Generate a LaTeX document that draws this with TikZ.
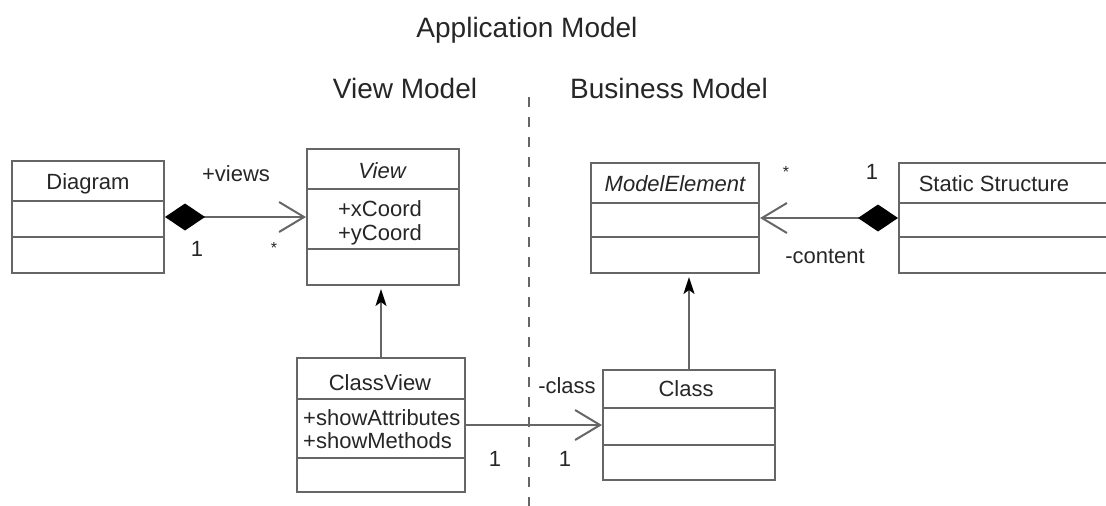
\documentclass[tikz,border=0pt]{standalone}
\usepackage{fontspec}
\setmainfont{Liberation Sans}
\usetikzlibrary{arrows.meta}

\begin{document}
\begin{tikzpicture}[x=1pt,y=-1pt,
  cls/.style={draw=black!60,line width=2pt,inner sep=0pt},
  part/.style={draw=black!60,line width=2pt},
  txt/.style={font=\fontsize{22}{26}\selectfont,text=black!85,text height=16pt,text depth=0pt,inner sep=0pt},
  star/.style={font=\fontsize{16}{20}\selectfont,text=black!85,inner sep=0pt},
  ttl/.style={font=\fontsize{28}{33}\selectfont,text=black!85,text height=20pt,text depth=0pt,inner sep=0pt},
  assoc/.style={draw=black!60,line width=2pt,{Diamond[length=40pt,width=27pt,fill=black,color=black]}-{Straight Barb[length=25pt,width=30pt]}},
  navi/.style={draw=black!60,line width=2pt,-{Straight Barb[length=25pt,width=30pt]}},
  inherit/.style={draw=black!60,line width=2pt,-{Stealth[length=17pt,width=11pt,inset=4pt,color=black]},shorten >=3pt}]
\useasboundingbox (0,0) rectangle (1106,506);

\node[ttl] (appmodel) at (527,27) {Application Model};
\node[ttl] (viewmodel) at (405,88) {View Model};
\node[ttl] (busmodel) at (669,88) {Business Model};

\coordinate (divtop) at (529,97);
\coordinate (divbot) at (529,506);
\draw[black!60,line width=2pt,dash pattern=on 10pt off 10pt] (divtop) -- (divbot);

% classes
\node[cls,minimum width=152pt,minimum height=112pt] (diagram) at (88,217) {};
\draw[part] (diagram.west |- 0,201) -- (diagram.east |- 0,201);
\draw[part] (diagram.west |- 0,237) -- (diagram.east |- 0,237);
\node[txt] (diagramname) at (88,181) {Diagram};

\node[cls,minimum width=152pt,minimum height=136pt] (view) at (383,217) {};
\draw[part] (view.west |- 0,189) -- (view.east |- 0,189);
\draw[part] (view.west |- 0,249) -- (view.east |- 0,249);
\node[txt] (viewname) at (382,170) {\itshape View};
\node[txt] (xcoord) at (380,208) {+xCoord};
\node[txt] (ycoord) at (380,232) {+yCoord};

\node[cls,minimum width=168pt,minimum height=110pt] (modelelement) at (675,218) {};
\draw[part] (modelelement.west |- 0,203) -- (modelelement.east |- 0,203);
\draw[part] (modelelement.west |- 0,237) -- (modelelement.east |- 0,237);
\node[txt] (modelelementname) at (675,183) {\itshape ModelElement};

\node[cls,minimum width=213pt,minimum height=110pt] (staticstructure) at (1005.5,218) {};
\draw[part] (staticstructure.west |- 0,203) -- (staticstructure.east |- 0,203);
\draw[part] (staticstructure.west |- 0,237) -- (staticstructure.east |- 0,237);
\node[txt] (staticstructurename) at (994,183) {Static Structure};

\node[cls,minimum width=168pt,minimum height=134pt] (classview) at (381,425) {};
\draw[part] (classview.west |- 0,399) -- (classview.east |- 0,399);
\draw[part] (classview.west |- 0,458) -- (classview.east |- 0,458);
\node[txt] (classviewname) at (380,382) {ClassView};
\node[txt,anchor=west] (showattr) at (303,417) {+showAttributes};
\node[txt,anchor=west] (showmeth) at (303,440) {+showMethods};

\node[cls,minimum width=172pt,minimum height=110pt] (class) at (689,425) {};
\draw[part] (class.west |- 0,408) -- (class.east |- 0,408);
\draw[part] (class.west |- 0,445) -- (class.east |- 0,445);
\node[txt] (classname) at (686,388) {Class};

% connectors
\draw[assoc] (diagram.east) -- (view.west);
\draw[assoc] (staticstructure.west) -- (modelelement.east);
\draw[navi] (classview.east) -- (class.west);
\draw[inherit] (classview.north) -- (classview.north |- view.south);
\draw[inherit] (class.north) -- (class.north |- modelelement.south);

% roles and multiplicities
\node[txt] (views) at (236,173) {+views};
\node[txt] (viewsone) at (197,248) {1};
\node[star] (viewsmany) at (274,248) {*};
\node[star] (contentmany) at (786,172) {*};
\node[txt] (contentone) at (872,171) {1};
\node[txt] (content) at (825,255) {-content};
\node[txt] (classrole) at (567,385) {-class};
\node[txt] (classone) at (495,458) {1};
\node[txt] (classtwo) at (565,458) {1};
\end{tikzpicture}
\end{document}
